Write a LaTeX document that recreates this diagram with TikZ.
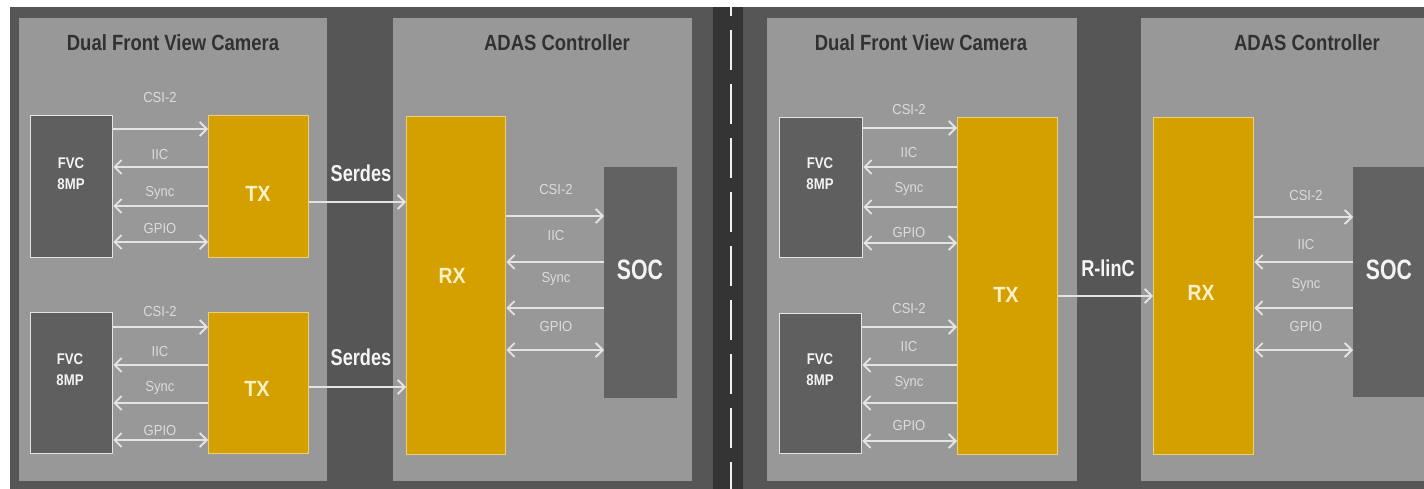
\documentclass[tikz,border=0pt]{standalone}
\usepackage{fontspec}
\setmainfont{Liberation Sans}
\usepackage{graphicx}
\usetikzlibrary{arrows.meta}
\definecolor{bgdark}{HTML}{565656}
\definecolor{road}{HTML}{343434}
\definecolor{panel}{HTML}{989898}
\definecolor{fvcfill}{HTML}{5F5F5F}
\definecolor{socfill}{HTML}{626262}
\definecolor{gold}{HTML}{D4A000}
\definecolor{goldedge}{HTML}{EED070}
\definecolor{titlec}{HTML}{313131}
\definecolor{sigc}{HTML}{E4E4E4}
\definecolor{labc}{HTML}{DCDCDC}
\definecolor{boxtxt}{HTML}{F4F4F4}
\definecolor{goldtxt}{HTML}{FBF0C8}
\newcommand\narrowtxt[2]{\scalebox{#1}[1]{#2}}
\tikzset{
  panelbox/.style={fill=panel, draw=none, anchor=north west, inner sep=0pt},
  fvcbox/.style={fill=fvcfill, draw=sigc, line width=1.4pt, anchor=north west, inner sep=0pt},
  goldbox/.style={fill=gold, draw=goldedge, line width=1.4pt, anchor=north west, inner sep=0pt},
  socbox/.style={fill=socfill, draw=none, anchor=north west, inner sep=0pt},
  titletxt/.style={text=titlec, font=\bfseries\fontsize{22}{22}\selectfont, inner sep=0pt},
  linktxt/.style={text=boxtxt, font=\bfseries\fontsize{23}{23}\selectfont, inner sep=0pt},
  fvctxt/.style={text=boxtxt, font=\bfseries\fontsize{15.5}{21}\selectfont, align=center, inner sep=0pt},
  goldlab/.style={text=goldtxt, font=\bfseries\fontsize{22}{22}\selectfont, inner sep=0pt},
  soctxt/.style={text=boxtxt, font=\bfseries\fontsize{28}{28}\selectfont, inner sep=0pt},
  sig/.style={draw=sigc, line width=1.8pt, arrows={-Straight Barb[length=7pt,width=14pt]}},
  sigl/.style={draw=sigc, line width=1.8pt, arrows={Straight Barb[length=7pt,width=14pt]-}},
  sigb/.style={draw=sigc, line width=1.8pt, arrows={Straight Barb[length=7pt,width=14pt]-Straight Barb[length=7pt,width=14pt]}},
  lab/.style={text=labc, font=\fontsize{14.5}{14.5}\selectfont, inner sep=0pt},
}
\newcommand\labt[1]{\narrowtxt{0.9}{#1}}
\newcommand\fvclines{\narrowtxt{0.85}{FVC}\\\narrowtxt{0.85}{8MP}}
\begin{document}
\begin{tikzpicture}[x=1pt,y=-1pt]
\useasboundingbox (0,0) rectangle (1424,489);
\fill[white] (0,0) rectangle (1424,489);
% backgrounds
\fill[bgdark] (10,7) rectangle (713,489);
\fill[road] (713,7) rectangle (743,489);
\fill[bgdark] (743,7) rectangle (1424,489);
\draw[white!88!gray, line width=2.6pt, dash pattern=on 40pt off 14pt, dash phase=31pt] (731,7) -- (731,489);

% ===== LEFT HALF =====
\node[panelbox, minimum width=308pt, minimum height=463pt] (camL) at (19,18) {};
\node[panelbox, minimum width=299pt, minimum height=463pt] (adasL) at (393,18) {};
\node[titletxt] (camLt) at (173,43) {\narrowtxt{0.84}{Dual Front View Camera}};
\node[titletxt] (adasLt) at (557,43) {\narrowtxt{0.84}{ADAS Controller}};

\node[fvcbox, minimum width=82pt, minimum height=142pt] (fvcA) at (30,115) {};
\node[goldbox, minimum width=100pt, minimum height=142pt] (txA) at (208,115) {};
\node[fvcbox, minimum width=82pt, minimum height=141pt] (fvcB) at (30,312) {};
\node[goldbox, minimum width=100pt, minimum height=141pt] (txB) at (208,312) {};
\node[goldbox, minimum width=99pt, minimum height=338pt] (rxL) at (406,116) {};
\node[socbox, minimum width=73pt, minimum height=231pt] (socL) at (604,167) {};

\node[fvctxt] (fvcAt) at (71,174) {\fvclines};
\node[fvctxt] (fvcBt) at (70,370) {\fvclines};
\node[goldlab] (txAt) at (258,194) {\narrowtxt{0.9}{TX}};
\node[goldlab] (txBt) at (257,389) {\narrowtxt{0.9}{TX}};
\node[goldlab] (rxLt) at (452,276) {\narrowtxt{0.88}{RX}};
\node[soctxt] (socLt) at (640,270) {\narrowtxt{0.76}{SOC}};

% camera A signals
\draw[sig]  (fvcA.east |- 0,129) -- (txA.west |- 0,129);
\draw[sigl] (fvcA.east |- 0,167) -- (txA.west |- 0,167);
\draw[sigl] (fvcA.east |- 0,206) -- (txA.west |- 0,206);
\draw[sigb] (fvcA.east |- 0,242) -- (txA.west |- 0,242);
\node[lab] (lA1) at (160,98) {\labt{CSI-2}};
\node[lab] (lA2) at (160,155) {\labt{IIC}};
\node[lab] (lA3) at (160,193) {\labt{Sync}};
\node[lab] (lA4) at (160,229) {\labt{GPIO}};
% camera B signals
\draw[sig]  (fvcB.east |- 0,327) -- (txB.west |- 0,327);
\draw[sigl] (fvcB.east |- 0,365) -- (txB.west |- 0,365);
\draw[sigl] (fvcB.east |- 0,403) -- (txB.west |- 0,403);
\draw[sigb] (fvcB.east |- 0,440) -- (txB.west |- 0,440);
\node[lab] (lB1) at (160,312) {\labt{CSI-2}};
\node[lab] (lB2) at (160,352) {\labt{IIC}};
\node[lab] (lB3) at (160,388) {\labt{Sync}};
\node[lab] (lB4) at (160,431) {\labt{GPIO}};
% serdes links
\draw[sig] (txA.east |- 0,202) -- (rxL.west |- 0,202);
\draw[sig] (txB.east |- 0,387) -- (rxL.west |- 0,387);
\node[linktxt] (serA) at (361,173) {\narrowtxt{0.79}{Serdes}};
\node[linktxt] (serB) at (361,357) {\narrowtxt{0.79}{Serdes}};
% RX - SOC
\draw[sig]  (rxL.east |- 0,216) -- (socL.west |- 0,216);
\draw[sigl] (rxL.east |- 0,262) -- (socL.west |- 0,262);
\draw[sigl] (rxL.east |- 0,308) -- (socL.west |- 0,308);
\draw[sigb] (rxL.east |- 0,350) -- (socL.west |- 0,350);
\node[lab] (lL1) at (556,190) {\labt{CSI-2}};
\node[lab] (lL2) at (556,236) {\labt{IIC}};
\node[lab] (lL3) at (556,279) {\labt{Sync}};
\node[lab] (lL4) at (556,327) {\labt{GPIO}};

% ===== RIGHT HALF =====
\node[panelbox, minimum width=310pt, minimum height=463pt] (camR) at (767,18) {};
\node[panelbox, minimum width=283pt, minimum height=463pt] (adasR) at (1141,18) {};
\node[titletxt] (camRt) at (921,43) {\narrowtxt{0.84}{Dual Front View Camera}};
\node[titletxt] (adasRt) at (1307,43) {\narrowtxt{0.84}{ADAS Controller}};

\node[fvcbox, minimum width=83pt, minimum height=140pt] (fvcC) at (779,117) {};
\node[fvcbox, minimum width=82pt, minimum height=140pt] (fvcD) at (779,313) {};
\node[goldbox, minimum width=100pt, minimum height=337pt] (txR) at (957,117) {};
\node[goldbox, minimum width=100pt, minimum height=337pt] (rxR) at (1153,117) {};
\node[socbox, minimum width=71pt, minimum height=230pt] (socR) at (1353,167) {};

\node[fvctxt] (fvcCt) at (820,174) {\fvclines};
\node[fvctxt] (fvcDt) at (820,370) {\fvclines};
\node[goldlab] (txRt) at (1006,295) {\narrowtxt{0.9}{TX}};
\node[goldlab] (rxRt) at (1201,293) {\narrowtxt{0.88}{RX}};
\node[soctxt] (socRt) at (1389,270) {\narrowtxt{0.76}{SOC}};

% camera C signals
\draw[sig]  (fvcC.east |- 0,128) -- (txR.west |- 0,128);
\draw[sigl] (fvcC.east |- 0,167) -- (txR.west |- 0,167);
\draw[sigl] (fvcC.east |- 0,207) -- (txR.west |- 0,207);
\draw[sigb] (fvcC.east |- 0,243) -- (txR.west |- 0,243);
\node[lab] (lC1) at (909,110) {\labt{CSI-2}};
\node[lab] (lC2) at (909,153) {\labt{IIC}};
\node[lab] (lC3) at (909,189) {\labt{Sync}};
\node[lab] (lC4) at (909,233) {\labt{GPIO}};
% camera D signals
\draw[sig]  (fvcD.east |- 0,327) -- (txR.west |- 0,327);
\draw[sigl] (fvcD.east |- 0,365) -- (txR.west |- 0,365);
\draw[sigl] (fvcD.east |- 0,403) -- (txR.west |- 0,403);
\draw[sigb] (fvcD.east |- 0,441) -- (txR.west |- 0,441);
\node[lab] (lD1) at (909,309) {\labt{CSI-2}};
\node[lab] (lD2) at (909,347) {\labt{IIC}};
\node[lab] (lD3) at (909,383) {\labt{Sync}};
\node[lab] (lD4) at (909,426) {\labt{GPIO}};
% R-linC link
\draw[sig] (txR.east |- 0,296) -- (rxR.west |- 0,296);
\node[linktxt] (rlinc) at (1108,268) {\narrowtxt{0.79}{R-linC}};
% RX - SOC
\draw[sig]  (rxR.east |- 0,217) -- (socR.west |- 0,217);
\draw[sigl] (rxR.east |- 0,262) -- (socR.west |- 0,262);
\draw[sigl] (rxR.east |- 0,308) -- (socR.west |- 0,308);
\draw[sigb] (rxR.east |- 0,350) -- (socR.west |- 0,350);
\node[lab] (lR1) at (1306,196) {\labt{CSI-2}};
\node[lab] (lR2) at (1306,245) {\labt{IIC}};
\node[lab] (lR3) at (1306,285) {\labt{Sync}};
\node[lab] (lR4) at (1306,327) {\labt{GPIO}};
\end{tikzpicture}
\end{document}
